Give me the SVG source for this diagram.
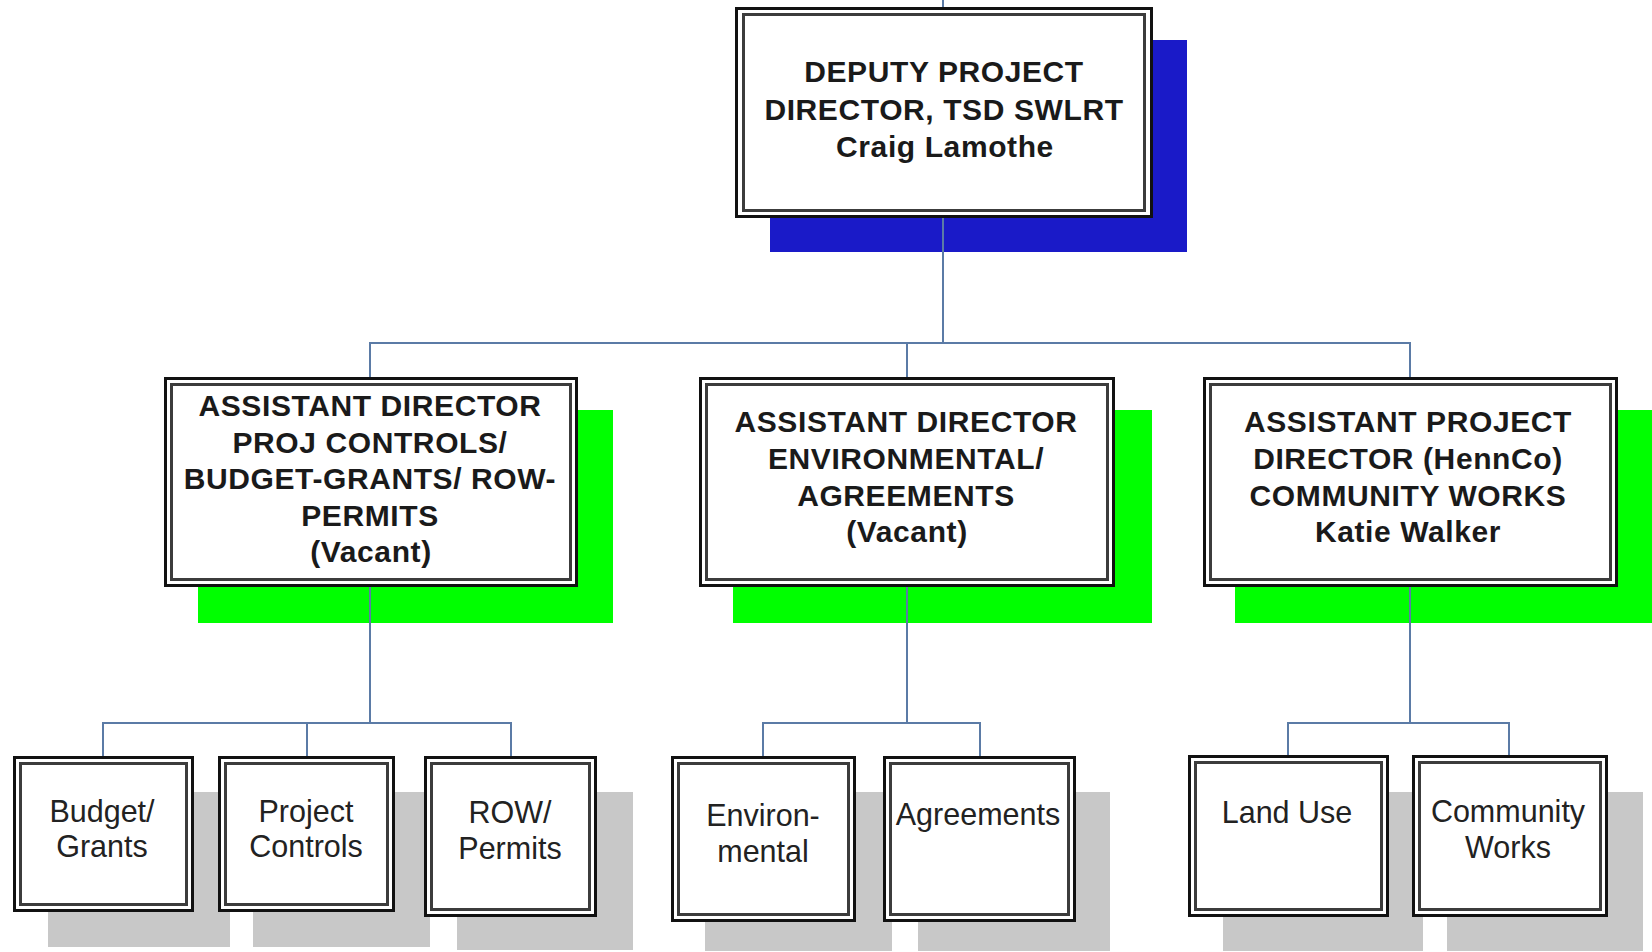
<svg xmlns="http://www.w3.org/2000/svg" width="1652" height="952" viewBox="0 0 1652 952">
<style>
.bg{fill:#ffffff}
.sb{fill:#1a1ac8}
.sg{fill:#00ff00}
.sy{fill:#c8c8c8}
.out{fill:#ffffff;stroke:#111111;stroke-width:3}
.inn{fill:#ffffff;stroke:#3c3c3c;stroke-width:3}
.con{fill:none;stroke:#5b7ba6;stroke-width:2}
.tb{font-family:"Liberation Sans",Arial,sans-serif;font-weight:bold;font-size:30px;letter-spacing:0.6px;fill:#1a1a1a;text-anchor:middle}
.tr{font-family:"Liberation Sans",Arial,sans-serif;font-size:30.5px;fill:#222222;text-anchor:middle}
</style>
<rect class="bg" x="0" y="0" width="1652" height="952"/>

<g id="shadows">
<rect class="sb" x="770" y="40" width="417" height="212"/>
<rect class="sg" x="198" y="410" width="415" height="213"/>
<rect class="sg" x="733" y="410" width="419" height="213"/>
<rect class="sg" x="1235" y="410" width="417" height="213"/>
<rect class="sy" x="48" y="792" width="182" height="155"/>
<rect class="sy" x="253" y="792" width="177" height="155"/>
<rect class="sy" x="457" y="792" width="176" height="158"/>
<rect class="sy" x="705" y="792" width="187" height="159"/>
<rect class="sy" x="918" y="792" width="192" height="159"/>
<rect class="sy" x="1223" y="792" width="200" height="159"/>
<rect class="sy" x="1447" y="792" width="196" height="159"/>
</g>

<g id="connectors">
<path class="con" d="M943,0 V8"/>
<path class="con" d="M943,217 V343"/>
<path class="con" d="M370,378 V343 H1410 V378"/>
<path class="con" d="M907,343 V378"/>
<path class="con" d="M370,586 V723"/>
<path class="con" d="M103,757 V723 H511 V757"/>
<path class="con" d="M307,723 V757"/>
<path class="con" d="M907,586 V723"/>
<path class="con" d="M763,757 V723 H980 V757"/>
<path class="con" d="M1410,586 V723"/>
<path class="con" d="M1288,757 V723 H1509 V757"/>
</g>

<g id="deputy">
<rect class="out" x="736.5" y="8.5" width="415" height="208"/>
<rect class="inn" x="743.5" y="14.5" width="401" height="196"/>
<text class="tb" x="944" y="82">DEPUTY PROJECT</text>
<text class="tb" x="944" y="120">DIRECTOR, TSD SWLRT</text>
<text class="tb" x="945" y="157">Craig Lamothe</text>
</g>

<g id="ad-controls">
<rect class="out" x="165.5" y="378.5" width="411" height="207"/>
<rect class="inn" x="171.5" y="384.5" width="399" height="195"/>
<text class="tb" x="370" y="416">ASSISTANT DIRECTOR</text>
<text class="tb" x="370" y="452.5">PROJ CONTROLS/</text>
<text class="tb" x="370" y="489">BUDGET-GRANTS/ ROW-</text>
<text class="tb" x="370" y="525.5">PERMITS</text>
<text class="tb" x="371" y="562">(Vacant)</text>
</g>

<g id="ad-environmental">
<rect class="out" x="700.5" y="378.5" width="413" height="207"/>
<rect class="inn" x="706.5" y="384.5" width="401" height="195"/>
<text class="tb" x="906" y="432">ASSISTANT DIRECTOR</text>
<text class="tb" x="906" y="469">ENVIRONMENTAL/</text>
<text class="tb" x="906" y="506">AGREEMENTS</text>
<text class="tb" x="907" y="542">(Vacant)</text>
</g>

<g id="apd-community">
<rect class="out" x="1204.5" y="378.5" width="412" height="207"/>
<rect class="inn" x="1210.5" y="384.5" width="400" height="195"/>
<text class="tb" x="1408" y="432">ASSISTANT PROJECT</text>
<text class="tb" x="1408" y="469">DIRECTOR (HennCo)</text>
<text class="tb" x="1408" y="506">COMMUNITY WORKS</text>
<text class="tb" x="1408" y="542">Katie Walker</text>
</g>

<g id="budget-grants">
<rect class="out" x="14.5" y="757.5" width="178" height="153"/>
<rect class="inn" x="20.5" y="763.5" width="166" height="141"/>
<text class="tr" x="102" y="822">Budget/</text>
<text class="tr" x="102" y="857">Grants</text>
</g>

<g id="project-controls">
<rect class="out" x="219.5" y="757.5" width="174" height="153"/>
<rect class="inn" x="225.5" y="763.5" width="162" height="141"/>
<text class="tr" x="306" y="822">Project</text>
<text class="tr" x="306" y="857">Controls</text>
</g>

<g id="row-permits">
<rect class="out" x="425.5" y="757.5" width="170" height="158"/>
<rect class="inn" x="431.5" y="763.5" width="158" height="146"/>
<text class="tr" x="510" y="823">ROW/</text>
<text class="tr" x="510" y="859">Permits</text>
</g>

<g id="environmental">
<rect class="out" x="672.5" y="757.5" width="182" height="163"/>
<rect class="inn" x="678.5" y="763.5" width="170" height="151"/>
<text class="tr" x="763" y="826">Environ-</text>
<text class="tr" x="763" y="862">mental</text>
</g>

<g id="agreements">
<rect class="out" x="884.5" y="757.5" width="190" height="163"/>
<rect class="inn" x="890.5" y="763.5" width="178" height="151"/>
<text class="tr" x="978" y="825">Agreements</text>
</g>

<g id="land-use">
<rect class="out" x="1189.5" y="756.5" width="198" height="159"/>
<rect class="inn" x="1195.5" y="762.5" width="186" height="147"/>
<text class="tr" x="1287" y="823">Land Use</text>
</g>

<g id="community-works">
<rect class="out" x="1413.5" y="756.5" width="193" height="159"/>
<rect class="inn" x="1419.5" y="762.5" width="181" height="147"/>
<text class="tr" x="1508" y="822">Community</text>
<text class="tr" x="1508" y="858">Works</text>
</g>
</svg>
